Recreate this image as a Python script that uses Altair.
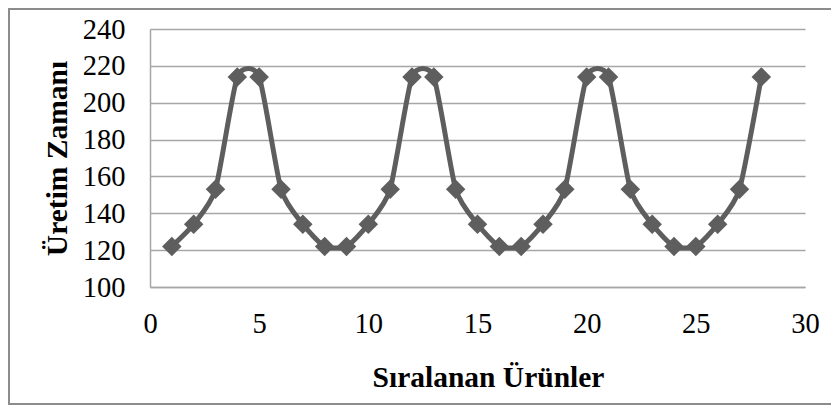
import altair as alt
import pandas as pd

urun = list(range(1, 29))
zaman = [122, 134, 153, 214, 214, 153, 134, 122,
         122, 134, 153, 214, 214, 153, 134, 122,
         122, 134, 153, 214, 214, 153, 134, 122,
         122, 134, 153, 214]
x_ticks = [0, 5, 10, 15, 20, 25, 30]
y_ticks = [100, 120, 140, 160, 180, 200, 220, 240]

df = pd.DataFrame({"x": urun, "y": zaman})

FONT = "Liberation Serif"
GRID = "#a6a6a6"
LINE = "#5e5e5e"

x_enc = alt.X("x:Q", scale=alt.Scale(domain=[0, 30], nice=False),
              axis=alt.Axis(values=x_ticks, tickCount=20, title="Sıralanan Ürünler", grid=False,
                            ticks=False, domain=True, domainColor=GRID, domainWidth=1.5,
                            labelFont=FONT, labelFontSize=28.5, labelColor="black",
                            labelPadding=22, labelFlush=False, labelOverlap=False,
                            titleFont=FONT, titleFontSize=29.5, titleFontWeight="bold",
                            titleColor="black", titleX=338, titleY=99,
                            titleBaseline="alphabetic", titleAlign="center"))
y_enc = alt.Y("y:Q", scale=alt.Scale(domain=[100, 240], nice=False),
              axis=alt.Axis(values=y_ticks, tickCount=20, title="Üretim Zamanı", grid=True,
                            gridColor=GRID, gridWidth=1.5,
                            ticks=False, domain=True, domainColor=GRID, domainWidth=1.5,
                            labelFont=FONT, labelFontSize=28.5, labelColor="black",
                            labelPadding=25, labelOverlap=False,
                            titleFont=FONT, titleFontSize=29.5, titleFontWeight="bold",
                            titleColor="black", titleX=-84, titleY=129,
                            titleBaseline="alphabetic", titleAlign="center", titleAngle=270))

line = alt.Chart(df).mark_line(interpolate="cardinal", tension=0.4, strokeWidth=5, color=LINE).encode(x=x_enc, y=y_enc)
pts = alt.Chart(df).mark_point(shape="diamond", filled=True, size=380, color=LINE, opacity=1).encode(x="x:Q", y="y:Q")

border = alt.Chart(pd.DataFrame({"a": [0]})).mark_rect(
    fillOpacity=0, stroke="#8c8c8c", strokeWidth=2
).encode(x=alt.value(-141), x2=alt.value(720), y=alt.value(-20), y2=alt.value(375))

chart = alt.layer(border, line, pts).properties(
    width=655, height=258,
    padding={"left": 142, "top": 21, "right": 26, "bottom": 119},
    autosize="none",
).configure_view(stroke=None)

chart.save("out.html", embed_options={"renderer": "svg", "actions": False})
